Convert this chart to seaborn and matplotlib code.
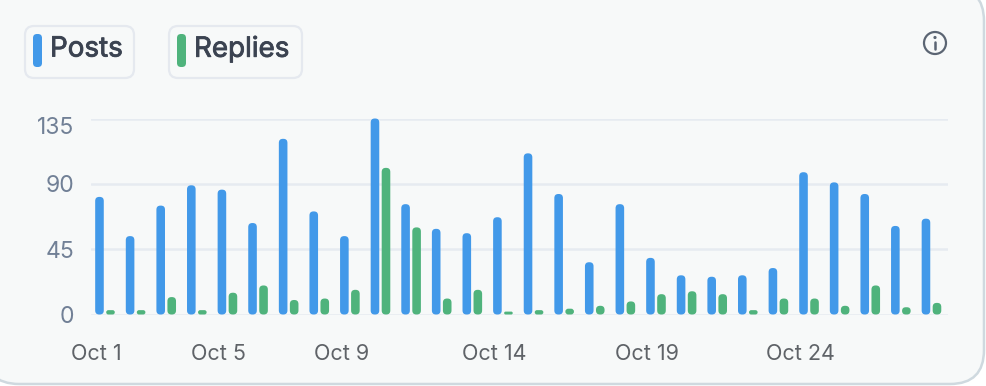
import numpy as np
import pandas as pd
import seaborn as sns
import matplotlib.pyplot as plt
import matplotlib.patheffects as pe
from matplotlib.patches import Circle, FancyBboxPatch
from matplotlib.transforms import ScaledTranslation

days = ['Oct %d' % d for d in range(1, 29)]
posts = [81, 54, 75, 89, 86, 63, 121, 71, 54, 135, 76, 59, 56, 67,
         111, 83, 36, 76, 39, 27, 26, 27, 32, 98, 91, 83, 61, 66]
replies = [3, 3, 12, 3, 15, 20, 10, 11, 17, 101, 60, 11, 17, 2,
           3, 4, 6, 9, 14, 16, 14, 3, 11, 11, 6, 20, 5, 8]
y_ticks = [0, 45, 90, 135]
x_labels = ['Oct 1', 'Oct 5', 'Oct 9', 'Oct 14', 'Oct 19', 'Oct 24']

BLUE = '#4299e9'
GREEN = '#4fb37c'
CARD = '#f7f9f9'

df = pd.DataFrame({'day': days, 'Posts': posts, 'Replies': replies})
df = df.melt(id_vars='day', var_name='series', value_name='count')

sns.set_style('white')
plt.rcParams['font.family'] = ['Inter', 'DejaVu Sans']

W, H = 986, 386
fig = plt.figure(figsize=(W / 100, H / 100), dpi=100, facecolor='white')

# pixel-coordinate layer for the card, legend chips and info icon
bg = fig.add_axes([0, 0, 1, 1], zorder=0)
bg.set_xlim(0, W)
bg.set_ylim(H, 0)
bg.axis('off')
bg.add_patch(FancyBboxPatch((-15, -13), 999, 397, boxstyle='round,pad=0,rounding_size=34',
                            fc=CARD, ec='#cfd9df', lw=1.8))


def chip(x0, x1, color, label):
    bg.add_patch(FancyBboxPatch((x0, 26), x1 - x0, 52, boxstyle='round,pad=0,rounding_size=9',
                                fc=CARD, ec='#e5e9ef', lw=1.6))
    bg.add_patch(FancyBboxPatch((x0 + 8, 34), 9, 33, boxstyle='round,pad=0,rounding_size=4',
                                fc=color, ec='none'))
    t = bg.text(x0 + 25, 49.5, label, fontsize=20, color='#3b4351', ha='left', va='center')
    # a touch of stroke, the reference text is medium weight
    t.set_path_effects([pe.withStroke(linewidth=0.6, foreground='#3b4351')])


chip(25, 134, BLUE, 'Posts')
chip(169, 302, GREEN, 'Replies')

# info icon
bg.add_patch(Circle((935, 43), 11, fc='none', ec='#5b6573', lw=1.6))
bg.add_patch(Circle((935, 37.5), 1.6, fc='#5b6573', ec='none'))
bg.plot([935, 935], [41.5, 49], color='#5b6573', lw=1.8, solid_capstyle='round')

# plot area
left, right, top, bottom = 91, 948, 118.5, 314.5
ax = fig.add_axes([left / W, 1 - bottom / H, (right - left) / W, (bottom - top) / H], zorder=1)
ax.patch.set_alpha(0)

sns.barplot(data=df, x='day', y='count', hue='series', order=days, hue_order=['Posts', 'Replies'],
            palette=[BLUE, GREEN], saturation=1, width=0.72, gap=0.22, legend=False, ax=ax, zorder=3)
ax.set_xlim(-0.457, 27.54)
ax.set_ylim(0, 135)

# round off the bars
px_x = (right - left) / 28.0
px_y = (bottom - top) / 135.0
for bar in list(ax.patches):
    x, w, h = bar.get_x(), bar.get_width(), bar.get_height()
    r_px = min(4, h * px_y / 2)
    ax.add_patch(FancyBboxPatch((x, 0), w, h, boxstyle='round,pad=0,rounding_size=%f' % (r_px / px_x),
                                mutation_aspect=px_x / px_y, fc=bar.get_facecolor(), ec='none',
                                clip_on=False, zorder=3))
    bar.set_visible(False)

ax.set_yticks(y_ticks)
ax.set_xticks([int(l.split()[1]) - 1 - 0.28 for l in x_labels])
ax.set_xticklabels(x_labels)
ax.set_xlabel('')
ax.set_ylabel('')
ax.grid(axis='y', color='#e6ebf1', lw=1.8, zorder=0)
ax.grid(axis='x', visible=False)
sns.despine(ax=ax, left=True, bottom=True, top=True, right=True)
ax.tick_params(axis='y', length=0, pad=12, labelsize=16.5, labelcolor='#718096')
ax.tick_params(axis='x', length=0, pad=21, labelsize=15.5, labelcolor='#5f6368')

# the top y label sits a little below its gridline
top_label = ax.get_yticklabels()[-1]
top_label.set_transform(top_label.get_transform() + ScaledTranslation(0, -7 / 100, fig.dpi_scale_trans))

fig.savefig('out.png', dpi=100)
